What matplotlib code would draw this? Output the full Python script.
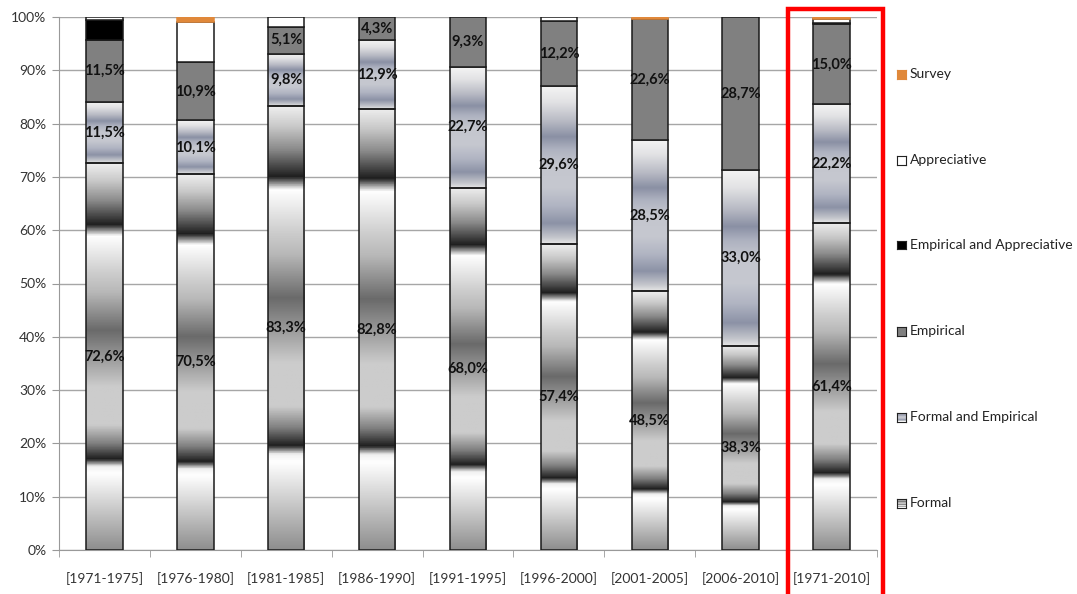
import numpy as np
import matplotlib
matplotlib.use("Agg")
import matplotlib.pyplot as plt
import matplotlib.patches as patches
from matplotlib.colors import LinearSegmentedColormap

plt.rcParams['font.family'] = ['Lato', 'DejaVu Sans']

# data (percent of papers per period)
periods = ['[1971-1975]', '[1976-1980]', '[1981-1985]', '[1986-1990]', '[1991-1995]',
           '[1996-2000]', '[2001-2005]', '[2006-2010]', '[1971-2010]']
formal = [72.6, 70.5, 83.3, 82.8, 68.0, 57.4, 48.5, 38.3, 61.4]
formal_emp = [11.5, 10.1, 9.8, 12.9, 22.7, 29.6, 28.5, 33.0, 22.2]
empirical = [11.5, 10.9, 5.1, 4.3, 9.3, 12.2, 22.6, 28.7, 15.0]
emp_appr = [3.9, 0, 0, 0, 0, 0, 0, 0, 0.3]
appreciative = [0.5, 7.6, 1.8, 0, 0, 0.8, 0, 0, 0.7]
survey = [0, 0.9, 0, 0, 0, 0, 0.4, 0, 0.4]

# gradient fills, stops from bottom to top of a segment
formal_cmap = LinearSegmentedColormap.from_list('formal', [
    (0.0, '#8e8e8e'), (0.198, '#ffffff'), (0.215, '#f0f0f0'), (0.234, '#1e1e1e'),
    (0.275, '#808080'), (0.323, '#cccccc'), (0.422, '#cccccc'), (0.568, '#6a6a6a'),
    (0.667, '#b8b8b8'), (0.714, '#cccccc'), (0.80, '#f8f8f8'), (0.813, '#ffffff'),
    (0.842, '#1e1e1e'), (0.904, '#8a8a8a'), (0.955, '#c8c8c8'), (1.0, '#eeeeee')])
fe_cmap = LinearSegmentedColormap.from_list('fe', [
    (0.0, '#e6e6e6'), (0.04, '#c4c6cc'), (0.13, '#8c92a6'), (0.24, '#b0b4c2'),
    (0.36, '#c6c8d0'), (0.50, '#c4c6ce'), (0.60, '#aeb2c0'), (0.68, '#8a90a4'),
    (0.78, '#b8bac4'), (0.90, '#e2e2e4'), (1.0, '#f4f4f4')])
grad = np.linspace(0, 1, 256).reshape(-1, 1)

W, H = 1077, 594
fig = plt.figure(figsize=(W / 100, H / 100), dpi=100)
ax = fig.add_axes([59 / W, 44 / H, 818 / W, 533 / H])

x = np.arange(len(periods))
series = [
    ('Formal', formal, formal_cmap),
    ('Formal and Empirical', formal_emp, fe_cmap),
    ('Empirical', empirical, '#808080'),
    ('Empirical and Appreciative', emp_appr, '#000000'),
    ('Appreciative', appreciative, '#ffffff'),
    ('Survey', survey, '#e0883a'),
]

bottom = np.zeros(len(periods))
for name, vals, fill in series:
    vals = np.array(vals)
    is_grad = not isinstance(fill, str)
    ec = '#e0883a' if name == 'Survey' else '#1a1a1a'
    bars = ax.bar(x, vals, 0.4, bottom=bottom, facecolor='none' if is_grad else fill,
                  edgecolor=ec, linewidth=1.1, zorder=3)
    for p, v in zip(bars, vals):
        if v == 0:
            p.set_visible(False)
            continue
        if is_grad:
            ax.imshow(grad, cmap=fill, origin='lower', aspect='auto', zorder=2,
                      extent=(p.get_x(), p.get_x() + p.get_width(),
                              p.get_y(), p.get_y() + p.get_height()))
    if name in ('Formal', 'Formal and Empirical', 'Empirical'):
        for xi, b, v in zip(x, bottom, vals):
            ax.text(xi, b + v / 2, f"{v:.1f}%".replace('.', ','), ha='center', va='center',
                    fontsize=10.5, fontweight='bold', color='#111111', zorder=5)
    bottom += vals

ax.set_xlim(-0.5, len(periods) - 0.5)
ax.set_ylim(0, 100)
ax.set_yticks(range(0, 101, 10))
ax.set_yticklabels([f"{v}%" for v in range(0, 101, 10)], fontsize=10, color='#333333')
ax.set_xticks(x)
ax.set_xticklabels(periods, fontsize=10, color='#333333')
ax.set_xticks(np.arange(-0.5, len(periods), 1), minor=True)
ax.tick_params(axis='x', which='major', length=0, pad=16)
ax.tick_params(axis='x', which='minor', length=5, color='#999999', direction='out')
ax.tick_params(axis='y', length=5, color='#999999', pad=4)
ax.grid(axis='y', color='#a6a6a6', linewidth=1)
ax.set_axisbelow(True)
for s in ('top', 'right'):
    ax.spines[s].set_visible(False)
for s in ('left', 'bottom'):
    ax.spines[s].set_color('#999999')

# legend on the right, evenly spaced
leg_y = [74, 160, 245, 331, 417, 503]
for (name, vals, fill), yy in zip(series[::-1], leg_y):
    sw = fig.add_axes([897 / W, (H - yy - 4.5) / H, 9 / W, 9 / H])
    sw.set_xticks([])
    sw.set_yticks([])
    if isinstance(fill, str):
        sw.set_facecolor(fill)
    else:
        sw.imshow(grad, cmap=fill, origin='lower', aspect='auto')
    for sp in sw.spines.values():
        sp.set_color('#e0883a' if name == 'Survey' else '#222222')
        sp.set_linewidth(0.8)
    fig.text(910 / W, (H - yy) / H, name, fontsize=10, va='center', ha='left', color='#222222')

# red highlight frame around the whole-period bar
fig.patches.append(patches.Rectangle((788 / W, -0.05), 95 / W, (H - 9) / H + 0.05,
                                     transform=fig.transFigure, fill=False,
                                     edgecolor='#ff0000', linewidth=3.2))

fig.savefig('out.png', dpi=100)
